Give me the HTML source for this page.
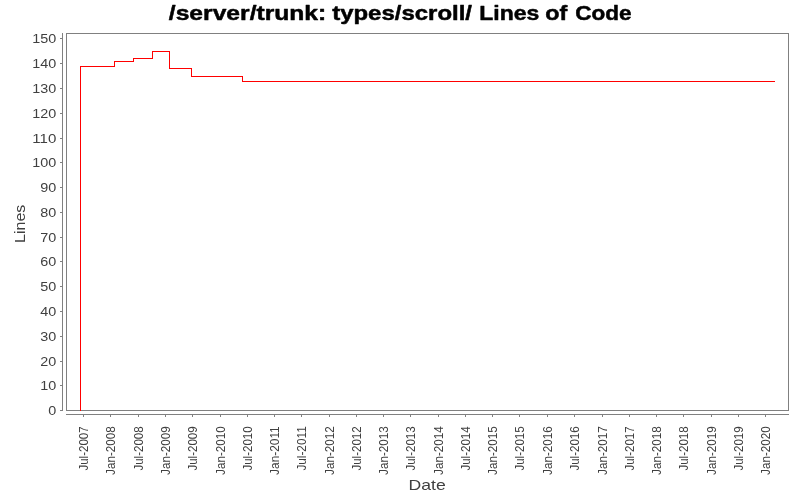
<!DOCTYPE html>
<html><head><meta charset="utf-8"><title>Lines of Code</title>
<style>html,body{margin:0;padding:0;background:#fff;}body{width:800px;height:500px;overflow:hidden;font-family:"Liberation Sans", sans-serif;}svg{display:block;position:absolute;left:0;top:0;}text{font-family:"Liberation Sans", sans-serif;}</style>
</head><body>
<svg width="800" height="500" viewBox="0 0 800 500">
<rect x="0" y="0" width="800" height="500" fill="#ffffff"/>
<g shape-rendering="crispEdges">
<rect x="66" y="33" width="723" height="1" fill="#808080"/>
<rect x="66" y="410" width="723" height="1" fill="#808080"/>
<rect x="66" y="33" width="1" height="378" fill="#808080"/>
<rect x="788" y="33" width="1" height="378" fill="#808080"/>
<rect x="62" y="33" width="1" height="378" fill="#808080"/>
<rect x="60" y="410" width="2" height="1" fill="#808080"/>
<rect x="60" y="385" width="2" height="1" fill="#808080"/>
<rect x="60" y="361" width="2" height="1" fill="#808080"/>
<rect x="60" y="336" width="2" height="1" fill="#808080"/>
<rect x="60" y="311" width="2" height="1" fill="#808080"/>
<rect x="60" y="286" width="2" height="1" fill="#808080"/>
<rect x="60" y="261" width="2" height="1" fill="#808080"/>
<rect x="60" y="237" width="2" height="1" fill="#808080"/>
<rect x="60" y="212" width="2" height="1" fill="#808080"/>
<rect x="60" y="187" width="2" height="1" fill="#808080"/>
<rect x="60" y="162" width="2" height="1" fill="#808080"/>
<rect x="60" y="138" width="2" height="1" fill="#808080"/>
<rect x="60" y="113" width="2" height="1" fill="#808080"/>
<rect x="60" y="88" width="2" height="1" fill="#808080"/>
<rect x="60" y="63" width="2" height="1" fill="#808080"/>
<rect x="60" y="38" width="2" height="1" fill="#808080"/>
<rect x="66" y="414" width="723" height="1" fill="#808080"/>
<rect x="83" y="415" width="1" height="2" fill="#808080"/>
<rect x="110" y="415" width="1" height="2" fill="#808080"/>
<rect x="138" y="415" width="1" height="2" fill="#808080"/>
<rect x="165" y="415" width="1" height="2" fill="#808080"/>
<rect x="192" y="415" width="1" height="2" fill="#808080"/>
<rect x="220" y="415" width="1" height="2" fill="#808080"/>
<rect x="247" y="415" width="1" height="2" fill="#808080"/>
<rect x="274" y="415" width="1" height="2" fill="#808080"/>
<rect x="301" y="415" width="1" height="2" fill="#808080"/>
<rect x="329" y="415" width="1" height="2" fill="#808080"/>
<rect x="356" y="415" width="1" height="2" fill="#808080"/>
<rect x="383" y="415" width="1" height="2" fill="#808080"/>
<rect x="410" y="415" width="1" height="2" fill="#808080"/>
<rect x="438" y="415" width="1" height="2" fill="#808080"/>
<rect x="465" y="415" width="1" height="2" fill="#808080"/>
<rect x="492" y="415" width="1" height="2" fill="#808080"/>
<rect x="519" y="415" width="1" height="2" fill="#808080"/>
<rect x="547" y="415" width="1" height="2" fill="#808080"/>
<rect x="574" y="415" width="1" height="2" fill="#808080"/>
<rect x="602" y="415" width="1" height="2" fill="#808080"/>
<rect x="629" y="415" width="1" height="2" fill="#808080"/>
<rect x="656" y="415" width="1" height="2" fill="#808080"/>
<rect x="683" y="415" width="1" height="2" fill="#808080"/>
<rect x="711" y="415" width="1" height="2" fill="#808080"/>
<rect x="738" y="415" width="1" height="2" fill="#808080"/>
<rect x="765" y="415" width="1" height="2" fill="#808080"/>
<rect x="80" y="66" width="1" height="345" fill="#ff0000"/>
<rect x="80" y="66" width="35" height="1" fill="#ff0000"/>
<rect x="114" y="61" width="1" height="6" fill="#ff0000"/>
<rect x="114" y="61" width="20" height="1" fill="#ff0000"/>
<rect x="133" y="58" width="1" height="4" fill="#ff0000"/>
<rect x="133" y="58" width="20" height="1" fill="#ff0000"/>
<rect x="152" y="51" width="1" height="8" fill="#ff0000"/>
<rect x="152" y="51" width="18" height="1" fill="#ff0000"/>
<rect x="169" y="51" width="1" height="18" fill="#ff0000"/>
<rect x="169" y="68" width="23" height="1" fill="#ff0000"/>
<rect x="191" y="68" width="1" height="9" fill="#ff0000"/>
<rect x="191" y="76" width="52" height="1" fill="#ff0000"/>
<rect x="242" y="76" width="1" height="6" fill="#ff0000"/>
<rect x="242" y="81" width="533" height="1" fill="#ff0000"/>
</g>
<g opacity="0.999">
<text x="168.8" y="19.9" font-size="20.6" font-weight="bold" fill="#000" stroke="#000" stroke-width="0.5" stroke-linejoin="round" textLength="157.5" lengthAdjust="spacingAndGlyphs">/server/trunk:</text>
<text x="332.2" y="19.9" font-size="20.6" font-weight="bold" fill="#000" stroke="#000" stroke-width="0.5" stroke-linejoin="round" textLength="139.8" lengthAdjust="spacingAndGlyphs">types/scroll/</text>
<text x="479.3" y="19.9" font-size="20.6" font-weight="bold" fill="#000" stroke="#000" stroke-width="0.5" stroke-linejoin="round" textLength="60.0" lengthAdjust="spacingAndGlyphs">Lines</text>
<text x="545.3" y="19.9" font-size="20.6" font-weight="bold" fill="#000" stroke="#000" stroke-width="0.5" stroke-linejoin="round" textLength="22.0" lengthAdjust="spacingAndGlyphs">of</text>
<text x="575.2" y="19.9" font-size="20.6" font-weight="bold" fill="#000" stroke="#000" stroke-width="0.5" stroke-linejoin="round" textLength="56.3" lengthAdjust="spacingAndGlyphs">Code</text>
<text x="56.3" y="414.9" font-size="12.3" fill="#404040" text-anchor="end" textLength="8.0" lengthAdjust="spacingAndGlyphs">0</text>
<text x="56.3" y="389.9" font-size="12.3" fill="#404040" text-anchor="end" textLength="16.0" lengthAdjust="spacingAndGlyphs">10</text>
<text x="56.3" y="365.9" font-size="12.3" fill="#404040" text-anchor="end" textLength="16.0" lengthAdjust="spacingAndGlyphs">20</text>
<text x="56.3" y="340.9" font-size="12.3" fill="#404040" text-anchor="end" textLength="16.0" lengthAdjust="spacingAndGlyphs">30</text>
<text x="56.3" y="315.9" font-size="12.3" fill="#404040" text-anchor="end" textLength="16.0" lengthAdjust="spacingAndGlyphs">40</text>
<text x="56.3" y="290.9" font-size="12.3" fill="#404040" text-anchor="end" textLength="16.0" lengthAdjust="spacingAndGlyphs">50</text>
<text x="56.3" y="265.9" font-size="12.3" fill="#404040" text-anchor="end" textLength="16.0" lengthAdjust="spacingAndGlyphs">60</text>
<text x="56.3" y="241.9" font-size="12.3" fill="#404040" text-anchor="end" textLength="16.0" lengthAdjust="spacingAndGlyphs">70</text>
<text x="56.3" y="216.9" font-size="12.3" fill="#404040" text-anchor="end" textLength="16.0" lengthAdjust="spacingAndGlyphs">80</text>
<text x="56.3" y="191.9" font-size="12.3" fill="#404040" text-anchor="end" textLength="16.0" lengthAdjust="spacingAndGlyphs">90</text>
<text x="56.3" y="166.9" font-size="12.3" fill="#404040" text-anchor="end" textLength="24.0" lengthAdjust="spacingAndGlyphs">100</text>
<text x="56.3" y="142.9" font-size="12.3" fill="#404040" text-anchor="end" textLength="24.0" lengthAdjust="spacingAndGlyphs">110</text>
<text x="56.3" y="117.9" font-size="12.3" fill="#404040" text-anchor="end" textLength="24.0" lengthAdjust="spacingAndGlyphs">120</text>
<text x="56.3" y="92.9" font-size="12.3" fill="#404040" text-anchor="end" textLength="24.0" lengthAdjust="spacingAndGlyphs">130</text>
<text x="56.3" y="67.9" font-size="12.3" fill="#404040" text-anchor="end" textLength="24.0" lengthAdjust="spacingAndGlyphs">140</text>
<text x="56.3" y="42.9" font-size="12.3" fill="#404040" text-anchor="end" textLength="24.0" lengthAdjust="spacingAndGlyphs">150</text>
<text transform="translate(87.7,426.3) rotate(-90)" font-size="12.2" fill="#404040" text-anchor="end" textLength="44.3" lengthAdjust="spacingAndGlyphs">Jul-2007</text>
<text transform="translate(114.7,426.3) rotate(-90)" font-size="12.2" fill="#404040" text-anchor="end" textLength="48.6" lengthAdjust="spacingAndGlyphs">Jan-2008</text>
<text transform="translate(142.7,426.3) rotate(-90)" font-size="12.2" fill="#404040" text-anchor="end" textLength="44.3" lengthAdjust="spacingAndGlyphs">Jul-2008</text>
<text transform="translate(169.7,426.3) rotate(-90)" font-size="12.2" fill="#404040" text-anchor="end" textLength="48.6" lengthAdjust="spacingAndGlyphs">Jan-2009</text>
<text transform="translate(196.7,426.3) rotate(-90)" font-size="12.2" fill="#404040" text-anchor="end" textLength="44.3" lengthAdjust="spacingAndGlyphs">Jul-2009</text>
<text transform="translate(224.7,426.3) rotate(-90)" font-size="12.2" fill="#404040" text-anchor="end" textLength="48.6" lengthAdjust="spacingAndGlyphs">Jan-2010</text>
<text transform="translate(251.7,426.3) rotate(-90)" font-size="12.2" fill="#404040" text-anchor="end" textLength="44.3" lengthAdjust="spacingAndGlyphs">Jul-2010</text>
<text transform="translate(278.7,426.3) rotate(-90)" font-size="12.2" fill="#404040" text-anchor="end" textLength="48.6" lengthAdjust="spacingAndGlyphs">Jan-2011</text>
<text transform="translate(305.7,426.3) rotate(-90)" font-size="12.2" fill="#404040" text-anchor="end" textLength="44.3" lengthAdjust="spacingAndGlyphs">Jul-2011</text>
<text transform="translate(333.7,426.3) rotate(-90)" font-size="12.2" fill="#404040" text-anchor="end" textLength="48.6" lengthAdjust="spacingAndGlyphs">Jan-2012</text>
<text transform="translate(360.7,426.3) rotate(-90)" font-size="12.2" fill="#404040" text-anchor="end" textLength="44.3" lengthAdjust="spacingAndGlyphs">Jul-2012</text>
<text transform="translate(387.7,426.3) rotate(-90)" font-size="12.2" fill="#404040" text-anchor="end" textLength="48.6" lengthAdjust="spacingAndGlyphs">Jan-2013</text>
<text transform="translate(414.7,426.3) rotate(-90)" font-size="12.2" fill="#404040" text-anchor="end" textLength="44.3" lengthAdjust="spacingAndGlyphs">Jul-2013</text>
<text transform="translate(442.7,426.3) rotate(-90)" font-size="12.2" fill="#404040" text-anchor="end" textLength="48.6" lengthAdjust="spacingAndGlyphs">Jan-2014</text>
<text transform="translate(469.7,426.3) rotate(-90)" font-size="12.2" fill="#404040" text-anchor="end" textLength="44.3" lengthAdjust="spacingAndGlyphs">Jul-2014</text>
<text transform="translate(496.7,426.3) rotate(-90)" font-size="12.2" fill="#404040" text-anchor="end" textLength="48.6" lengthAdjust="spacingAndGlyphs">Jan-2015</text>
<text transform="translate(523.7,426.3) rotate(-90)" font-size="12.2" fill="#404040" text-anchor="end" textLength="44.3" lengthAdjust="spacingAndGlyphs">Jul-2015</text>
<text transform="translate(551.7,426.3) rotate(-90)" font-size="12.2" fill="#404040" text-anchor="end" textLength="48.6" lengthAdjust="spacingAndGlyphs">Jan-2016</text>
<text transform="translate(578.7,426.3) rotate(-90)" font-size="12.2" fill="#404040" text-anchor="end" textLength="44.3" lengthAdjust="spacingAndGlyphs">Jul-2016</text>
<text transform="translate(606.7,426.3) rotate(-90)" font-size="12.2" fill="#404040" text-anchor="end" textLength="48.6" lengthAdjust="spacingAndGlyphs">Jan-2017</text>
<text transform="translate(633.7,426.3) rotate(-90)" font-size="12.2" fill="#404040" text-anchor="end" textLength="44.3" lengthAdjust="spacingAndGlyphs">Jul-2017</text>
<text transform="translate(660.7,426.3) rotate(-90)" font-size="12.2" fill="#404040" text-anchor="end" textLength="48.6" lengthAdjust="spacingAndGlyphs">Jan-2018</text>
<text transform="translate(687.7,426.3) rotate(-90)" font-size="12.2" fill="#404040" text-anchor="end" textLength="44.3" lengthAdjust="spacingAndGlyphs">Jul-2018</text>
<text transform="translate(715.7,426.3) rotate(-90)" font-size="12.2" fill="#404040" text-anchor="end" textLength="48.6" lengthAdjust="spacingAndGlyphs">Jan-2019</text>
<text transform="translate(742.7,426.3) rotate(-90)" font-size="12.2" fill="#404040" text-anchor="end" textLength="44.3" lengthAdjust="spacingAndGlyphs">Jul-2019</text>
<text transform="translate(769.7,426.3) rotate(-90)" font-size="12.2" fill="#404040" text-anchor="end" textLength="48.6" lengthAdjust="spacingAndGlyphs">Jan-2020</text>
<text transform="translate(24.6,243) rotate(-90)" font-size="14.4" fill="#404040" textLength="38.3" lengthAdjust="spacingAndGlyphs">Lines</text>
<text x="408.5" y="490" font-size="14.2" fill="#404040" textLength="37.2" lengthAdjust="spacingAndGlyphs">Date</text>
</g>
</svg>
</body></html>
